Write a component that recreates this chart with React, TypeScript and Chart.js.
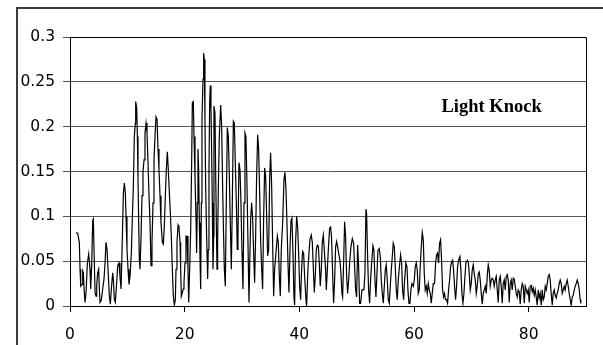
import { useEffect, useRef } from "react";
import { Chart, registerables } from "chart.js";

Chart.register(...registerables);

// Knock sensor trace: [x, amplitude]
const knockEarly: [number, number][] = [
  [1.05, 0.082], [1.34, 0.081], [1.63, 0.071], [1.75, 0.041], [1.87, 0.022], [2.1, 0.024], [2.22, 0.039], [2.33, 0.037], [2.45, 0.019], [2.62, 0.004],
  [2.8, 0.015], [3.03, 0.048], [3.26, 0.058], [3.49, 0.041], [3.61, 0.019], [3.78, 0.045], [3.96, 0.095], [4.07, 0.097], [4.19, 0.063], [4.37, 0.015],
  [4.54, 0.011], [4.66, 0.024], [4.83, 0.037], [5.0, 0.041], [5.12, 0.019], [5.24, 0.004], [5.47, 0.007], [5.7, 0.019], [5.93, 0.03], [6.11, 0.048],
  [6.28, 0.071], [6.46, 0.063], [6.63, 0.041], [6.86, 0.011], [7.04, 0.002], [7.21, 0.019], [7.45, 0.037], [7.56, 0.03], [7.74, 0.007], [7.91, 0.004],
  [8.14, 0.026], [8.32, 0.045], [8.55, 0.048], [8.72, 0.033], [8.9, 0.019], [9.07, 0.059], [9.31, 0.126], [9.48, 0.137], [9.65, 0.126], [9.77, 0.1],
  [9.94, 0.063], [10.12, 0.041], [10.29, 0.024], [10.47, 0.033], [10.7, 0.059], [10.87, 0.097], [11.05, 0.134], [11.22, 0.189], [11.4, 0.204], [11.46, 0.228],
  [11.63, 0.221], [11.75, 0.189], [11.86, 0.141], [11.98, 0.093], [12.09, 0.052], [12.21, 0.041], [12.39, 0.078], [12.56, 0.123], [12.73, 0.149], [12.91, 0.163],
  [13.08, 0.193], [13.26, 0.204], [13.43, 0.193], [13.61, 0.16], [13.78, 0.123], [13.96, 0.093], [14.13, 0.045], [14.3, 0.071], [14.48, 0.115], [14.65, 0.163],
  [14.83, 0.189], [15.0, 0.211], [15.18, 0.208], [15.35, 0.175], [15.52, 0.152], [15.7, 0.123], [15.87, 0.093], [16.11, 0.071], [16.28, 0.069], [16.45, 0.089],
  [16.63, 0.123], [16.8, 0.152], [16.98, 0.172], [17.15, 0.152], [17.33, 0.126], [17.5, 0.104], [17.67, 0.078], [17.85, 0.041], [18.02, 0.011], [18.2, 0.001],
  [18.37, 0.007], [18.49, 0.041], [18.66, 0.071], [18.84, 0.09], [19.01, 0.087], [19.19, 0.071], [19.3, 0.041], [19.42, 0.011], [19.59, 0.015], [19.77, 0.019],
  [19.88, 0.026], [20.06, 0.048], [20.23, 0.078], [20.41, 0.078], [20.58, 0.041], [20.7, 0.004], [20.87, 0.041], [21.05, 0.085], [21.22, 0.16], [21.34, 0.227],
  [21.51, 0.228], [21.63, 0.189], [21.8, 0.145], [21.98, 0.097], [22.09, 0.059], [22.21, 0.115], [22.32, 0.175], [22.44, 0.152], [22.56, 0.093], [22.67, 0.056],
  [22.79, 0.019], [22.91, 0.115], [23.02, 0.208], [23.2, 0.253], [23.31, 0.282], [23.43, 0.275], [23.54, 0.208], [23.66, 0.134], [23.83, 0.078], [24.01, 0.03],
  [24.12, 0.063], [24.24, 0.152], [24.36, 0.227], [24.47, 0.246], [24.59, 0.219], [24.71, 0.171], [24.82, 0.115], [24.94, 0.041], [25.06, 0.078], [25.11, 0.223],
  [25.29, 0.215], [25.4, 0.152], [25.52, 0.093], [25.64, 0.041], [25.75, 0.071], [25.87, 0.13], [26.04, 0.189], [26.28, 0.224], [26.45, 0.201], [26.57, 0.152],
  [26.74, 0.093], [26.92, 0.041], [27.09, 0.022], [27.26, 0.115], [27.44, 0.199], [27.61, 0.189], [27.79, 0.145], [27.96, 0.093], [28.14, 0.041], [28.31, 0.115],
  [28.49, 0.206], [28.66, 0.204], [28.83, 0.16], [29.01, 0.115], [29.18, 0.063], [29.3, 0.078], [29.47, 0.16], [29.65, 0.152], [29.82, 0.115], [30.0, 0.059],
  [30.17, 0.019], [30.35, 0.115], [30.52, 0.193], [30.69, 0.189], [30.87, 0.134], [31.04, 0.071], [31.22, 0.004], [31.33, 0.041], [31.51, 0.097], [31.68, 0.115],
  [31.86, 0.097], [32.03, 0.059], [32.2, 0.026], [32.38, 0.078], [32.55, 0.145], [32.73, 0.191], [32.9, 0.175], [33.08, 0.126], [33.25, 0.074], [33.43, 0.041],
  [33.6, 0.019], [33.77, 0.097], [33.95, 0.154], [34.12, 0.145], [34.3, 0.1], [34.47, 0.056], [34.65, 0.063], [34.82, 0.141], [34.99, 0.171], [35.17, 0.134],
  [35.34, 0.071], [35.52, 0.011], [35.69, 0.041], [35.92, 0.059], [36.16, 0.078], [36.33, 0.071], [36.51, 0.033], [36.68, 0.011], [36.85, 0.063], [37.09, 0.093],
  [37.32, 0.141], [37.49, 0.149], [37.67, 0.13], [37.84, 0.093], [38.02, 0.048], [38.19, 0.015], [38.37, 0.063], [38.54, 0.095], [38.71, 0.098], [38.89, 0.059],
  [39.06, 0.011], [39.18, 0.001], [39.35, 0.071], [39.53, 0.1], [39.7, 0.089], [39.88, 0.059], [40.05, 0.022], [40.22, 0.007], [40.4, 0.041], [40.57, 0.061],
  [40.75, 0.059], [40.92, 0.033], [41.16, 0.007], [41.27, 0.0], [41.5, 0.041], [41.68, 0.059], [41.85, 0.074], [42.08, 0.079], [42.26, 0.071], [42.43, 0.045],
  [42.61, 0.015], [42.78, 0.033], [42.96, 0.063], [43.13, 0.068], [43.31, 0.067], [43.48, 0.048], [43.65, 0.022], [43.83, 0.041], [44.0, 0.071], [44.18, 0.079],
  [44.35, 0.063], [44.58, 0.041],
];

const knockLate: [number, number][] = [
  [44.7, 0.018], [44.88, 0.04], [45.05, 0.062], [45.28, 0.087], [45.46, 0.088], [45.63, 0.075], [45.81, 0.036], [45.98, 0.003], [46.16, 0.029], [46.33, 0.066],
  [46.5, 0.072], [46.68, 0.066], [46.91, 0.057], [47.08, 0.051], [47.26, 0.036], [47.43, 0.014], [47.55, 0.01], [47.72, 0.048], [47.9, 0.094], [48.07, 0.077],
  [48.25, 0.033], [48.42, 0.014], [48.6, 0.029], [48.77, 0.048], [49.0, 0.066], [49.24, 0.075], [49.47, 0.07], [49.64, 0.044], [49.82, 0.018], [49.99, 0.01],
  [50.17, 0.068], [50.34, 0.044], [50.51, 0.003], [50.69, 0.003], [50.92, 0.018], [51.1, 0.018], [51.27, 0.018], [51.44, 0.036], [51.62, 0.108], [51.73, 0.103],
  [51.91, 0.055], [52.08, 0.018], [52.26, 0.003], [52.43, 0.029], [52.61, 0.048], [52.84, 0.067], [53.01, 0.062], [53.19, 0.029], [53.36, 0.01], [53.54, 0.036],
  [53.71, 0.062], [53.94, 0.064], [54.12, 0.055], [54.29, 0.029], [54.47, 0.014], [54.64, 0.003], [54.82, 0.022], [54.99, 0.04], [55.16, 0.046], [55.34, 0.029],
  [55.51, 0.007], [55.69, 0.003], [55.86, 0.022], [56.04, 0.04], [56.21, 0.055], [56.38, 0.07], [56.56, 0.066], [56.73, 0.044], [56.91, 0.018], [57.08, 0.007],
  [57.26, 0.029], [57.49, 0.046], [57.66, 0.057], [57.84, 0.048], [58.01, 0.018], [58.19, 0.007], [58.36, 0.029], [58.59, 0.048], [58.77, 0.044], [58.94, 0.018],
  [59.12, 0.003], [59.29, 0.003], [59.46, 0.018], [59.64, 0.025], [59.87, 0.022], [60.05, 0.029], [60.22, 0.044], [60.39, 0.048], [60.57, 0.04], [60.74, 0.014],
  [60.92, 0.018], [61.09, 0.044], [61.27, 0.066], [61.44, 0.082], [61.62, 0.074], [61.79, 0.036], [61.96, 0.018], [62.14, 0.022], [62.31, 0.014], [62.49, 0.025],
  [62.66, 0.018], [62.84, 0.014], [63.01, 0.003], [63.18, 0.014], [63.36, 0.025], [63.59, 0.025], [63.77, 0.048], [63.94, 0.057], [64.11, 0.059], [64.29, 0.048],
  [64.46, 0.07], [64.64, 0.074], [64.81, 0.051], [64.99, 0.018], [65.16, 0.01], [65.33, 0.014], [65.51, 0.007], [65.68, 0.007], [65.86, 0.003], [66.03, 0.018],
  [66.21, 0.029], [66.38, 0.044], [66.56, 0.049], [66.73, 0.051], [66.9, 0.04], [67.08, 0.022], [67.25, 0.007], [67.43, 0.022], [67.6, 0.044], [67.78, 0.051],
  [68.01, 0.055], [68.18, 0.04], [68.36, 0.014], [68.53, 0.003], [68.71, 0.014], [68.88, 0.033], [69.05, 0.048], [69.29, 0.051], [69.46, 0.049], [69.64, 0.036],
  [69.81, 0.018], [69.98, 0.025], [70.16, 0.04], [70.33, 0.046], [70.51, 0.036], [70.68, 0.029], [70.86, 0.014], [71.03, 0.022], [71.21, 0.036], [71.38, 0.038],
  [71.55, 0.029], [71.73, 0.014], [71.9, 0.002], [72.08, 0.014], [72.25, 0.018], [72.43, 0.022], [72.6, 0.014], [72.77, 0.033], [72.95, 0.046], [73.12, 0.04],
  [73.3, 0.022], [73.47, 0.029], [73.65, 0.031], [73.82, 0.029], [73.99, 0.022], [74.17, 0.029], [74.34, 0.033], [74.52, 0.018], [74.69, 0.004], [74.87, 0.029],
  [75.04, 0.033], [75.21, 0.022], [75.39, 0.003], [75.56, 0.025], [75.74, 0.029], [75.91, 0.018], [76.09, 0.033], [76.26, 0.035], [76.44, 0.029], [76.61, 0.004],
  [76.78, 0.025], [76.96, 0.029], [77.13, 0.018], [77.31, 0.031], [77.48, 0.03], [77.66, 0.022], [77.83, 0.014], [78.0, 0.01], [78.18, 0.018], [78.35, 0.016],
  [78.53, 0.002], [78.7, 0.018], [78.88, 0.025], [79.05, 0.022], [79.23, 0.003], [79.4, 0.022], [79.57, 0.018], [79.75, 0.014], [79.92, 0.018], [80.1, 0.004],
  [80.27, 0.022], [80.45, 0.023], [80.62, 0.016], [80.79, 0.02], [80.97, 0.012], [81.14, 0.018], [81.32, 0.01], [81.49, 0.001], [81.67, 0.018], [81.84, 0.009],
  [82.01, 0.014], [82.19, 0.001], [82.36, 0.018], [82.54, 0.007], [82.71, 0.01], [82.89, 0.022], [83.06, 0.018], [83.24, 0.025], [83.41, 0.033], [83.58, 0.035],
  [83.76, 0.029], [83.93, 0.014], [84.11, 0.001], [84.28, 0.014], [84.46, 0.018], [84.63, 0.012], [84.81, 0.009], [84.98, 0.014], [85.15, 0.018], [85.33, 0.025],
  [85.5, 0.029], [85.68, 0.025], [85.85, 0.014], [86.03, 0.018], [86.2, 0.022], [86.37, 0.018], [86.55, 0.025], [86.72, 0.029], [86.9, 0.022], [87.07, 0.014],
  [87.25, 0.007], [87.42, 0.001], [87.6, 0.01], [87.77, 0.012], [87.95, 0.018], [88.12, 0.022], [88.29, 0.025], [88.47, 0.029], [88.64, 0.025], [88.82, 0.018],
  [88.99, 0.007], [89.1, 0.003],
];

const yTickValues = [0, 0.05, 0.1, 0.15, 0.2, 0.25, 0.3];
const xTickValues = [0, 20, 40, 60, 80];
const annotationText = "Light Knock";
const annotationPosition = { x: 64.8, y: 0.2165 };

const framePlugin = {
  id: "frames",
  beforeDraw(chart: any) {
    const ctx = chart.ctx;
    ctx.save();
    ctx.fillStyle = "#ffffff";
    ctx.fillRect(0, 0, chart.width, chart.height);
    ctx.strokeStyle = "#3c3c3c";
    ctx.lineWidth = 2;
    ctx.strokeRect(17, 8, 800, 800);
    ctx.restore();
  },
  afterDatasetsDraw(chart: any) {
    const ctx = chart.ctx;
    const { left, top, right, bottom } = chart.chartArea;
    ctx.save();
    ctx.strokeStyle = "#000000";
    ctx.lineWidth = 1;
    ctx.beginPath();
    ctx.moveTo(Math.round(left), Math.round(top) + 0.5);
    ctx.lineTo(Math.round(right) + 0.5, Math.round(top) + 0.5);
    ctx.lineTo(Math.round(right) + 0.5, Math.round(bottom));
    ctx.stroke();
    const xs = chart.scales.x;
    const ys = chart.scales.y;
    ctx.fillStyle = "#000000";
    ctx.font = "bold 18.5px 'Liberation Serif', 'Times New Roman', serif";
    ctx.textAlign = "left";
    ctx.textBaseline = "alphabetic";
    ctx.fillText(
      annotationText,
      xs.getPixelForValue(annotationPosition.x),
      ys.getPixelForValue(annotationPosition.y)
    );
    ctx.restore();
  },
};

export default function App() {
  const canvasRef = useRef<HTMLCanvasElement | null>(null);

  useEffect(() => {
    if (!canvasRef.current) return;
    const points = [...knockEarly, ...knockLate].map(([x, y]) => ({ x, y }));
    const tickFont = { family: "'DejaVu Sans', sans-serif", size: 15.5 };
    const chart = new Chart(canvasRef.current, {
      type: "line",
      data: {
        datasets: [
          {
            label: "Light Knock",
            data: points,
            borderColor: "#000000",
            borderWidth: 1.2,
            pointRadius: 0,
            tension: 0,
            fill: false,
          },
        ],
      },
      options: {
        animation: false,
        responsive: false,
        devicePixelRatio: 1,
        layout: { padding: { left: 0, right: 17, top: 37, bottom: 0 } },
        plugins: {
          legend: { display: false },
          tooltip: { enabled: false },
          title: { display: false },
        },
        scales: {
          x: {
            type: "linear",
            min: 0,
            max: 90,
            afterBuildTicks: (scale: any) => {
              scale.ticks = xTickValues.map((v) => ({ value: v }));
            },
            afterFit: (scale: any) => {
              scale.height = 39;
            },
            ticks: {
              color: "#000000",
              font: tickFont,
              padding: 14,
              maxRotation: 0,
              autoSkip: false,
              callback: (v: any) => String(v),
            },
            grid: {
              drawOnChartArea: false,
              drawTicks: true,
              tickLength: 6,
              tickColor: "#000000",
              color: "#000000",
            },
            border: { display: true, color: "#000000", width: 1 },
          },
          y: {
            type: "linear",
            min: 0,
            max: 0.3,
            afterBuildTicks: (scale: any) => {
              scale.ticks = yTickValues.map((v) => ({ value: v }));
            },
            afterFit: (scale: any) => {
              scale.width = 70;
            },
            ticks: {
              color: "#000000",
              font: tickFont,
              padding: 8,
              autoSkip: false,
              callback: (v: any) => String(Number(Number(v).toFixed(2))),
            },
            grid: {
              drawOnChartArea: true,
              drawTicks: true,
              tickLength: 7,
              color: "#555555",
              tickColor: "#555555",
              lineWidth: 1,
            },
            border: { display: true, color: "#000000", width: 1 },
          },
        },
      },
      plugins: [framePlugin],
    });
    return () => chart.destroy();
  }, []);

  return (
    <div style={{ position: "fixed", left: 0, top: 0, width: 603, height: 345, background: "#fff" }}>
      <canvas ref={canvasRef} width={603} height={345} style={{ width: 603, height: 345, display: "block" }} />
    </div>
  );
}
